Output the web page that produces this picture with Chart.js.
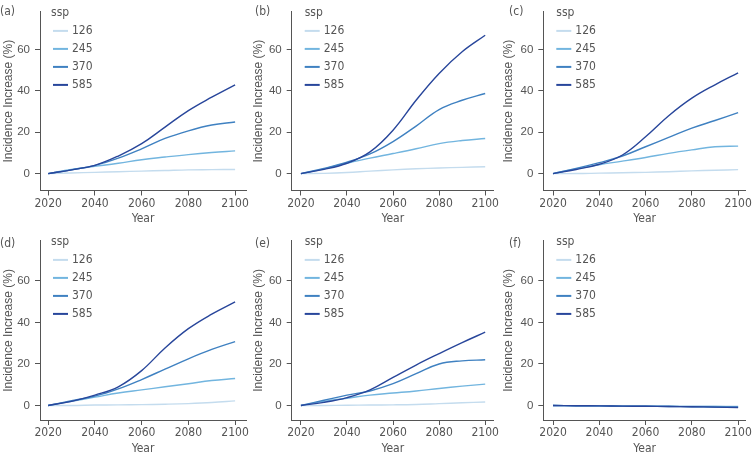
<!DOCTYPE html>
<html>
<head>
<meta charset="utf-8">
<script src="https://cdn.jsdelivr.net/npm/chart.js@4.4.1/dist/chart.umd.min.js"></script>
<style>
  body { margin: 0; background: #fff; }
  #wrap { position: relative; width: 753px; height: 459px; }
  .panel { position: absolute; }
</style>
</head>
<body>
<div id="wrap">
  <div class="panel" style="left:0px;top:0px;width:250px;height:229px"><canvas id="pa"></canvas></div>
  <div class="panel" style="left:250px;top:0px;width:250px;height:229px"><canvas id="pb"></canvas></div>
  <div class="panel" style="left:500px;top:0px;width:253px;height:229px"><canvas id="pc"></canvas></div>
  <div class="panel" style="left:0px;top:229px;width:250px;height:230px"><canvas id="pd"></canvas></div>
  <div class="panel" style="left:250px;top:229px;width:250px;height:230px"><canvas id="pe"></canvas></div>
  <div class="panel" style="left:500px;top:229px;width:253px;height:230px"><canvas id="pf"></canvas></div>
</div>
<script>
// data, one value per decade
const years = [2020, 2030, 2040, 2050, 2060, 2070, 2080, 2090, 2100];
const sspLabels = ['126', '245', '370', '585'];
const xTicks = [2020, 2040, 2060, 2080, 2100];
const yTicks = [0, 20, 40, 60];

const a126 = [0, 0.3, 0.6, 0.9, 1.2, 1.5, 1.8, 1.9, 2.0];
const a245 = [0, 2.0, 3.5, 5.0, 6.7, 8.0, 9.2, 10.2, 11.0];
const a370 = [0, 1.8, 4.0, 7.5, 12.0, 17.0, 20.7, 23.5, 25.0];
const a585 = [0, 1.8, 4.0, 8.5, 14.5, 22.5, 30.5, 37.0, 43.0];

const b126 = [0, 0.1, 0.5, 1.2, 1.8, 2.3, 2.7, 3.0, 3.3];
const b245 = [0, 2.3, 5.0, 7.5, 9.7, 12.0, 14.5, 16.0, 17.0];
const b370 = [0, 2.5, 5.5, 9.5, 15.5, 23.0, 31.0, 35.5, 38.8];
const b585 = [0, 2.0, 5.0, 10.5, 21.0, 35.5, 48.5, 59.0, 67.0];

const c126 = [0, 0, 0.2, 0.4, 0.6, 0.9, 1.3, 1.6, 1.9];
const c245 = [0, 2.3, 4.3, 6.0, 7.8, 9.8, 11.5, 13.0, 13.3];
const c370 = [0, 2.5, 5.3, 8.5, 13.0, 17.5, 22.0, 25.7, 29.5];
const c585 = [0, 2.0, 4.5, 9.0, 17.8, 28.0, 36.5, 43.0, 48.8];

const d126 = [0, 0, 0.2, 0.3, 0.4, 0.6, 0.9, 1.4, 2.2];
const d245 = [0, 2.0, 4.0, 6.0, 7.5, 9.0, 10.5, 12.0, 13.0];
const d370 = [0, 2.3, 4.5, 8.0, 12.5, 17.5, 22.5, 27.0, 30.8];
const d585 = [0, 2.0, 5.0, 9.0, 16.8, 27.7, 37.0, 44.0, 49.9];

const e126 = [0, 0, 0.1, 0.2, 0.3, 0.5, 0.9, 1.3, 1.7];
const e245 = [0, 2.0, 3.5, 5.0, 6.0, 7.0, 8.2, 9.3, 10.3];
const e370 = [0, 2.5, 5.0, 7.0, 10.5, 15.3, 20.0, 21.5, 22.0];
const e585 = [0, 1.5, 3.8, 7.5, 13.5, 19.5, 25.0, 30.3, 35.3];

const f126 = [0, -0.1, -0.1, -0.2, -0.2, -0.3, -0.3, -0.4, -0.4];
const f245 = [0, -0.1, -0.2, -0.3, -0.3, -0.4, -0.5, -0.5, -0.6];
const f370 = [0, -0.1, -0.2, -0.3, -0.4, -0.5, -0.6, -0.7, -0.8];
const f585 = [0, -0.1, -0.2, -0.3, -0.4, -0.5, -0.6, -0.8, -1.0];

const COLORS = ['#c4dcee', '#72b5df', '#3f81c1', '#28469b'];
const INK = '#555';
const NARROW = '"Liberation Sans Narrow", "DejaVu Sans Condensed", "Liberation Sans", sans-serif';
const WIDE = '"Liberation Sans", Arial, sans-serif';

// draws the "ssp" key inside the plot and the panel letter
const sspLegend = {
    id: 'sspLegend',
    afterDraw(chart, args, opts) {
        const ctx = chart.ctx;
        const area = chart.chartArea;
        ctx.save();
        ctx.font = '12px ' + NARROW;
        ctx.fillStyle = INK;
        ctx.textBaseline = 'middle';
        ctx.textAlign = 'left';
        const x0 = area.left + 13;
        ctx.fillText('ssp', x0 + opts.sspShift, area.top + 1);
        sspLabels.forEach((s, i) => {
            const y = area.top + 19 + i * 18;
            ctx.strokeStyle = COLORS[i];
            ctx.lineWidth = 2;
            ctx.beginPath();
            ctx.moveTo(x0, y);
            ctx.lineTo(x0 + 15, y);
            ctx.stroke();
            ctx.fillText(s, x0 + 19, y);
        });
        ctx.fillText('(' + opts.letter + ')', opts.letterX, opts.letterY);
        ctx.restore();
    }
};

function makePanel(id, letter, series, col, row) {
    const cols = [
        { leftW: 40, right: 247, width: 250, xmin: 2016.5, xmax: 2104.7, letterX: 0, sspShift: -2 },
        { leftW: 41.7, right: 248, width: 250, xmin: 2016.0, xmax: 2103.8, letterX: 5, sspShift: 0 },
        { leftW: 43.3, right: 249, width: 253, xmin: 2015.8, xmax: 2103.4, letterX: 9, sspShift: 0 }
    ];
    const rows = [
        { top: 5, bottom: 190.5, height: 229, ymin: -8.2, ymax: 78.3, letterY: 12 },
        { top: 6, bottom: 191, height: 230, ymin: -7, ymax: 79.3, letterY: 15 }
    ];
    const c = cols[col], r = rows[row];
    const datasets = series.map((vals, i) => ({
        label: sspLabels[i],
        data: years.map((y, k) => ({ x: y, y: vals[k] })),
        borderColor: COLORS[i],
        backgroundColor: COLORS[i],
        borderWidth: 1.4,
        pointRadius: 0,
        fill: false,
        tension: 0.4,
        order: 4 - i
    }));
    return new Chart(document.getElementById(id), {
        type: 'line',
        data: { datasets: datasets },
        plugins: [sspLegend],
        options: {
            responsive: true,
            maintainAspectRatio: false,
            animation: false,
            layout: { padding: { left: 0, top: r.top, right: c.width - c.right, bottom: 0 } },
            plugins: {
                legend: { display: false },
                tooltip: { enabled: false },
                sspLegend: { letter: letter, letterX: c.letterX, letterY: r.letterY, sspShift: c.sspShift }
            },
            scales: {
                x: {
                    type: 'linear',
                    min: c.xmin,
                    max: c.xmax,
                    afterBuildTicks: (s) => { s.ticks = xTicks.map(v => ({ value: v })); },
                    afterFit: (s) => { s.height = r.height - r.bottom; },
                    ticks: { color: INK, font: { family: NARROW, size: 12 }, padding: 1, maxRotation: 0, autoSkip: false,
                             callback: (v) => String(v) },
                    grid: { display: true, drawOnChartArea: false, drawTicks: true, tickLength: 5, color: INK },
                    border: { display: true, color: INK, width: 1 },
                    title: { display: true, text: 'Year', color: INK, font: { family: NARROW, size: 12 }, padding: { top: 0, bottom: 3 } }
                },
                y: {
                    type: 'linear',
                    min: r.ymin,
                    max: r.ymax,
                    afterBuildTicks: (s) => { s.ticks = yTicks.map(v => ({ value: v })); },
                    afterFit: (s) => { s.width = c.leftW; },
                    ticks: { color: INK, font: { family: WIDE, size: 11.5 }, padding: 5, callback: (v) => String(v) },
                    grid: { display: true, drawOnChartArea: false, drawTicks: true, tickLength: 5, color: INK },
                    border: { display: true, color: INK, width: 1 },
                    title: { display: true, text: 'Incidence Increase (%)', color: INK, font: { family: WIDE, size: 12 }, padding: { top: 1, bottom: 0 } }
                }
            }
        }
    });
}

makePanel('pa', 'a', [a126, a245, a370, a585], 0, 0);
makePanel('pb', 'b', [b126, b245, b370, b585], 1, 0);
makePanel('pc', 'c', [c126, c245, c370, c585], 2, 0);
makePanel('pd', 'd', [d126, d245, d370, d585], 0, 1);
makePanel('pe', 'e', [e126, e245, e370, e585], 1, 1);
makePanel('pf', 'f', [f126, f245, f370, f585], 2, 1);
</script>
</body>
</html>
